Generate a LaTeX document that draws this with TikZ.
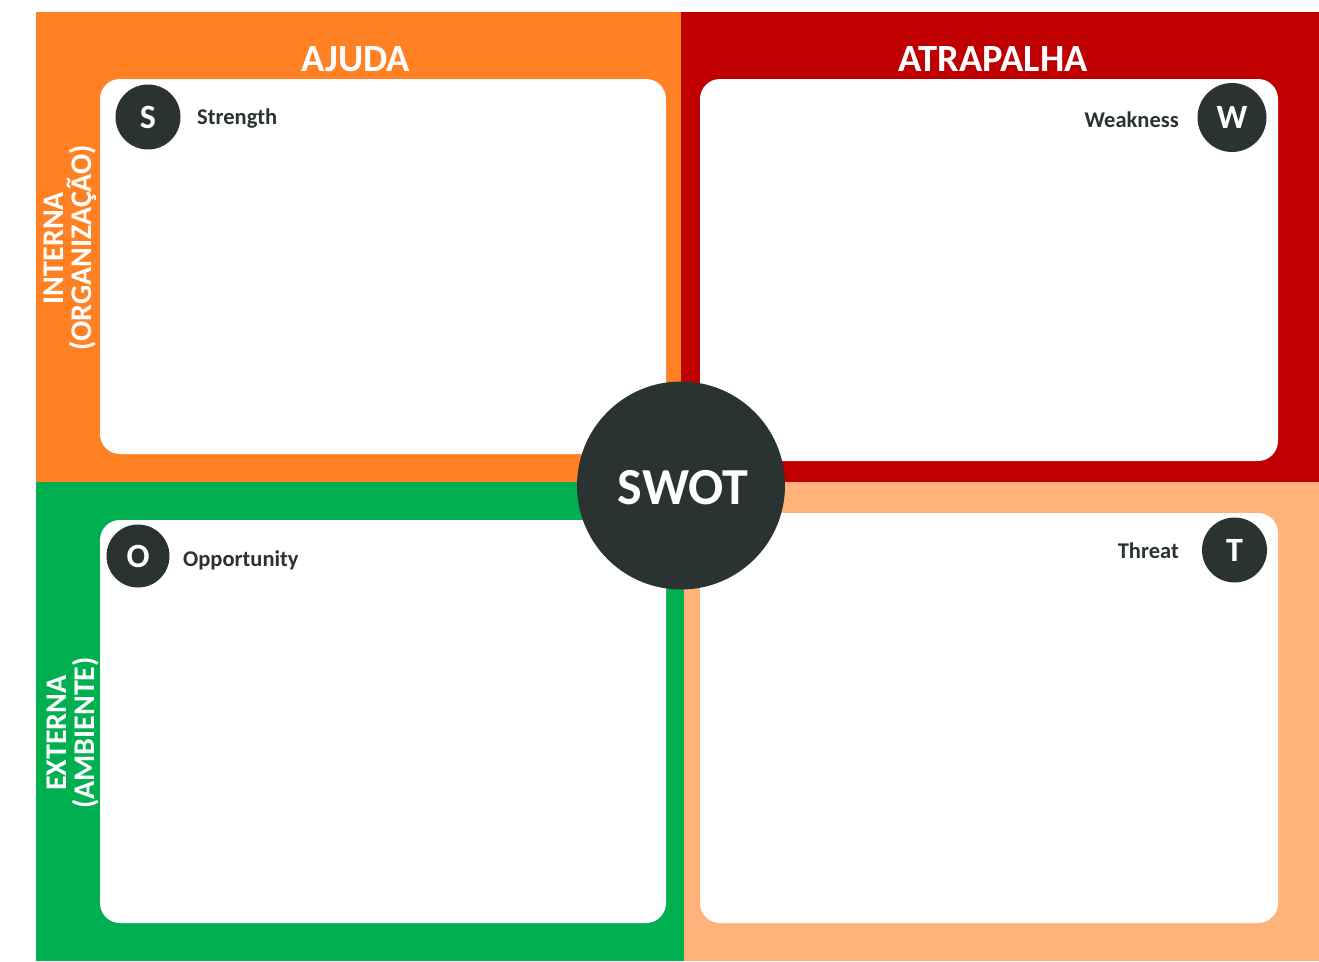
\documentclass[tikz,border=0pt]{standalone}
\usepackage{fontspec}
\setmainfont{Carlito}
\definecolor{qorange}{HTML}{FF8124}
\definecolor{qred}{HTML}{C00000}
\definecolor{qgreen}{HTML}{00B050}
\definecolor{qpeach}{HTML}{FFB27A}
\definecolor{ink}{HTML}{2B3332}
\tikzset{
  card/.style={fill=white, rounded corners=20pt},
  badge/.style={circle, fill=ink, text=white, inner sep=0pt, font=\bfseries\fontsize{34}{36}\selectfont},
  caption/.style={text=ink, inner sep=0pt, font=\bfseries\fontsize{22.5}{24}\selectfont},
  heading/.style={text=white, inner sep=0pt, font=\bfseries\fontsize{38.5}{40}\selectfont},
  sidelabel/.style={text=white, inner sep=0pt, rotate=90, align=center, font=\bfseries\fontsize{30}{28}\selectfont},
}
\begin{document}
\begin{tikzpicture}[x=1pt, y=-1pt]
\useasboundingbox (0,0) rectangle (1319,961);
% quadrant backgrounds
\fill[qorange] (36,12) rectangle (681,482);
\fill[qred] (681,12) rectangle (1319,482);
\fill[qgreen] (36,482) rectangle (684,961);
\fill[qpeach] (684,482) rectangle (1319,961);
% white cards
\fill[card] (100,79) rectangle (666,454);
\fill[card] (700,79) rectangle (1278,461);
\fill[card] (100,520) rectangle (666,923);
\fill[card] (700,513) rectangle (1278,923);
% column headings
\node[heading, anchor=base] (ajuda) at (356,71) {AJUDA};
\node[heading, anchor=base] (atrap) at (993,71) {ATRAPALHA};
% row labels
\node[sidelabel] (interna) at (70,248) {INTERNA\\(ORGANIZAÇÃO)};
\node[sidelabel] (externa) at (73,733) {EXTERNA\\(AMBIENTE)};
% badges and captions
\node[badge, minimum size=65pt] (s) at (148,117) {S};
\node[caption, anchor=base west] (strength) at (197,124) {Strength};
\node[badge, minimum size=69pt] (w) at (1232,117.5) {W};
\node[caption, anchor=base east] (weakness) at (1179,127) {Weakness};
\node[badge, minimum size=63pt] (o) at (138,556) {O};
\node[caption, anchor=base west] (opportunity) at (183,566) {Opportunity};
\node[badge, minimum size=65pt] (t) at (1234.5,550) {T};
\node[caption, anchor=base east] (threat) at (1179,558) {Threat};
% central disc
\node[circle, fill=ink, minimum size=208pt, inner sep=0pt] (swot) at (681,485.5) {};
\node[text=white, inner sep=0pt, anchor=base, font=\bfseries\fontsize{52}{54}\selectfont] (swottext) at (683,504) {SWOT};
\end{tikzpicture}
\end{document}
